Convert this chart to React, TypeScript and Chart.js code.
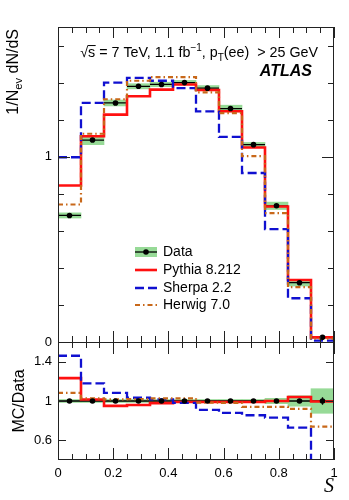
import React, { useEffect, useRef } from 'react';
import { Chart, registerables } from 'chart.js';

Chart.register(...registerables);

// ---------- data ----------
const BIN_EDGES = [0, 0.0833, 0.1667, 0.25, 0.3333, 0.4167, 0.5, 0.5833, 0.6667, 0.75, 0.8333, 0.9167, 1];

const DATA = [0.683, 1.09, 1.29, 1.38, 1.39, 1.4, 1.37, 1.26, 1.065, 0.735, 0.32, 0.025];
const DATA_BAND = [0.014, 0.025, 0.016, 0.014, 0.012, 0.012, 0.014, 0.018, 0.012, 0.02, 0.018, 0.004];
const DATA_STAT = [0.008, 0.008, 0.008, 0.008, 0.008, 0.008, 0.008, 0.008, 0.008, 0.006, 0.005, 0.001];

const PYTHIA = [0.845, 1.11, 1.227, 1.326, 1.362, 1.39, 1.36, 1.245, 1.05, 0.731, 0.335, 0.025];
const SHERPA = [0.997, 1.29, 1.4, 1.425, 1.41, 1.37, 1.245, 1.107, 0.912, 0.609, 0.236, 0.007];
const HERWIG = [0.742, 1.124, 1.31, 1.41, 1.43, 1.43, 1.347, 1.235, 1.003, 0.696, 0.296, 0.018];

const DATA_RATIO = [1, 1, 1, 1, 1, 1, 1, 1, 1, 1, 1, 1];
const RATIO_BAND = [0.015, 0.015, 0.015, 0.015, 0.015, 0.015, 0.015, 0.015, 0.015, 0.027, 0.053, 0.125];
const RATIO_STAT = [0.004, 0.004, 0.004, 0.004, 0.004, 0.004, 0.004, 0.004, 0.005, 0.008, 0.015, 0.038];

const PYTHIA_RATIO = [1.233, 1.015, 0.95, 0.96, 0.978, 0.99, 0.99, 0.99, 0.99, 1.0, 1.04, 0.995];
const SHERPA_RATIO = [1.46, 1.18, 1.083, 1.033, 1.017, 0.98, 0.91, 0.88, 0.855, 0.83, 0.73, 0.28];
const HERWIG_RATIO = [1.083, 1.027, 1.017, 1.02, 1.027, 1.027, 0.983, 0.98, 0.94, 0.94, 0.92, 0.74];

const X_TICKS = [0, 0.2, 0.4, 0.6, 0.8, 1];
const MAIN_Y_LABELS = [0, 1];
const RATIO_Y_TICKS = [0.6, 1, 1.4];
const LEGEND_LABELS = ['Data', 'Pythia 8.212', 'Sherpa 2.2', 'Herwig 7.0'];

// ---------- style ----------
const FONT = "'Liberation Sans', Arial, Helvetica, sans-serif";
const RED = '#ff1010';
const BLUE = '#1010d0';
const ORANGE = '#c8681a';
const GREEN = '#97da97';
const BLUE_DASH = [9, 4];
const ORANGE_DASH = [5, 3, 1.5, 3];

// ---------- helpers ----------
function stepPoints(vals: number[]) {
  const pts = vals.map((v, i) => ({ x: BIN_EDGES[i], y: v }));
  pts.push({ x: BIN_EDGES[vals.length], y: vals[vals.length - 1] });
  return pts;
}
function centre(i: number) {
  return (BIN_EDGES[i] + BIN_EDGES[i + 1]) / 2;
}
function bandPoints(vals: number[], errs: number[]) {
  return vals.map((v, i) => ({ x: centre(i), y: [v - errs[i], v + errs[i]] }));
}
function centrePoints(vals: number[]) {
  return vals.map((v, i) => ({ x: centre(i), y: v }));
}
function errorSegments(vals: number[], errs: number[]) {
  const pts: any[] = [];
  vals.forEach((v, i) => {
    const c = centre(i);
    pts.push({ x: BIN_EDGES[i], y: v }, { x: BIN_EDGES[i + 1], y: v }, { x: c, y: null });
    pts.push({ x: c, y: v - errs[i] }, { x: c, y: v + errs[i] }, { x: c, y: null });
  });
  return pts;
}

type Part = { t: string; mode?: 'sup' | 'sub'; over?: boolean };
function richWidth(ctx: CanvasRenderingContext2D, parts: Part[], size: number, style = '') {
  let w = 0;
  for (const p of parts) {
    const s = p.mode ? size * 0.7 : size;
    ctx.font = `${style}${s}px ${FONT}`;
    w += ctx.measureText(p.t).width;
  }
  return w;
}
function drawRich(ctx: CanvasRenderingContext2D, x: number, y: number, parts: Part[], size: number, style = '') {
  let cx = x;
  for (const p of parts) {
    const s = p.mode ? size * 0.7 : size;
    ctx.font = `${style}${s}px ${FONT}`;
    const dy = p.mode === 'sup' ? -size * 0.4 : p.mode === 'sub' ? size * 0.28 : 0;
    ctx.fillText(p.t, cx, y + dy);
    const w = ctx.measureText(p.t).width;
    if (p.over) {
      ctx.beginPath();
      ctx.lineWidth = 1;
      ctx.moveTo(cx - 0.5, y - size * 0.8);
      ctx.lineTo(cx + w + 0.5, y - size * 0.8);
      ctx.stroke();
    }
    cx += w;
  }
  return cx - x;
}

const decorPlugin = {
  id: 'decor',
  afterDraw(chart: any) {
    const ctx: CanvasRenderingContext2D = chart.ctx;
    const xs = chart.scales.x;
    const ys = chart.scales.y;
    const rs = chart.scales.yRatio;
    const L = xs.left;
    const R = xs.right;
    const mt = ys.top;
    const mb = ys.bottom;
    const rt = rs.top;
    const rb = rs.bottom;
    const line = (x1: number, y1: number, x2: number, y2: number) => {
      ctx.beginPath();
      ctx.moveTo(x1, y1);
      ctx.lineTo(x2, y2);
      ctx.stroke();
    };
    ctx.save();
    ctx.strokeStyle = '#222';
    ctx.lineWidth = 1;
    // frames
    ctx.strokeRect(Math.round(L) + 0.5, Math.round(mt) + 0.5, Math.round(R - L) - 1, Math.round(mb - mt));
    ctx.strokeRect(Math.round(L) + 0.5, Math.round(rt) + 0.5, Math.round(R - L) - 1, Math.round(rb - rt) - 1);

    // x ticks (major every 0.2, minor every 0.05)
    for (let k = 0; k <= 20; k++) {
      const px = Math.round(xs.getPixelForValue(k * 0.05)) + 0.5;
      const major = k % 4 === 0;
      const lm = major ? 11 : 6;
      line(px, mt, px, mt + lm);
      line(px, mb, px, mb - lm);
      const lr = major ? 12 : 6;
      line(px, rt, px, rt + lr);
      line(px, rb, px, rb - lr);
    }
    // main y ticks every 0.2
    for (let k = 0; k <= 8; k++) {
      const v = k * 0.2;
      const py = Math.round(ys.getPixelForValue(v)) + 0.5;
      const len = k === 0 || k === 5 ? 12 : 6;
      line(L, py, L + len, py);
      line(R, py, R - len, py);
    }
    // ratio y ticks
    for (const v of RATIO_Y_TICKS) {
      const py = Math.round(rs.getPixelForValue(v)) + 0.5;
      line(L, py, L + 8, py);
      line(R, py, R - 8, py);
    }

    // header text
    ctx.fillStyle = '#000';
    ctx.strokeStyle = '#000';
    ctx.textBaseline = 'alphabetic';
    ctx.textAlign = 'left';
    const header: Part[] = [
      { t: '\u221A' },
      { t: 's', over: true },
      { t: ' = 7 TeV, 1.1 fb' },
      { t: '\u22121', mode: 'sup' },
      { t: ', p' },
      { t: 'T', mode: 'sub' },
      { t: '(ee)  > 25 GeV' },
    ];
    const hw = richWidth(ctx, header, 14.3);
    drawRich(ctx, 318 - hw, 57, header, 14.3);

    // ATLAS
    ctx.font = `italic bold 16px ${FONT}`;
    ctx.textAlign = 'right';
    ctx.fillText('ATLAS', 312, 76);

    // y-axis title (main)
    const ytitle: Part[] = [{ t: '1/N' }, { t: 'ev', mode: 'sub' }, { t: ' dN/dS' }];
    ctx.save();
    ctx.translate(18, 29);
    ctx.rotate(-Math.PI / 2);
    ctx.textAlign = 'left';
    const yw = richWidth(ctx, ytitle, 16);
    drawRich(ctx, -yw, 0, ytitle, 16);
    ctx.restore();

    // ratio y title
    ctx.save();
    ctx.translate(24, (rt + rb) / 2);
    ctx.rotate(-Math.PI / 2);
    ctx.textAlign = 'center';
    ctx.font = `16px ${FONT}`;
    ctx.fillText('MC/Data', 0, 0);
    ctx.restore();

    // x title
    ctx.textAlign = 'right';
    ctx.font = `italic 20px 'Liberation Serif', 'DejaVu Serif', serif`;
    ctx.fillText('S', 334, 492);

    // legend
    const lx0 = 135;
    const lx1 = 157;
    const rows = [252, 270, 288, 305];
    // Data
    ctx.fillStyle = GREEN;
    ctx.fillRect(lx0, rows[0] - 5, lx1 - lx0, 10);
    ctx.strokeStyle = '#000';
    ctx.lineWidth = 1.3;
    line(lx0, rows[0], lx1, rows[0]);
    ctx.fillStyle = '#000';
    ctx.beginPath();
    ctx.arc((lx0 + lx1) / 2, rows[0], 2.8, 0, Math.PI * 2);
    ctx.fill();
    // Pythia
    ctx.strokeStyle = RED;
    ctx.lineWidth = 2.6;
    line(lx0, rows[1], lx1, rows[1]);
    // Sherpa
    ctx.strokeStyle = BLUE;
    ctx.lineWidth = 2.3;
    ctx.setLineDash(BLUE_DASH);
    line(lx0, rows[2], lx1, rows[2]);
    // Herwig
    ctx.strokeStyle = ORANGE;
    ctx.lineWidth = 2.2;
    ctx.setLineDash(ORANGE_DASH);
    line(lx0, rows[3], lx1, rows[3]);
    ctx.setLineDash([]);
    ctx.fillStyle = '#000';
    ctx.textAlign = 'left';
    ctx.textBaseline = 'middle';
    ctx.font = `14px ${FONT}`;
    LEGEND_LABELS.forEach((lab, i) => ctx.fillText(lab, 163, rows[i] + 0.5));

    ctx.restore();
  },
};

export default function App() {
  const canvasRef = useRef<HTMLCanvasElement | null>(null);

  useEffect(() => {
    if (!canvasRef.current) return;
    Chart.defaults.font.family = FONT;
    Chart.defaults.color = '#000';

    const lineDs = (data: any[], axis: string, color: string, width: number, dash: number[], order: number) => ({
      type: 'line' as const,
      data,
      yAxisID: axis,
      borderColor: color,
      borderWidth: width,
      borderDash: dash,
      stepped: 'before' as const,
      pointRadius: 0,
      fill: false,
      order,
    });

    const bandDs = (data: any[], axis: string) => ({
      type: 'bar' as const,
      data,
      yAxisID: axis,
      backgroundColor: GREEN,
      borderWidth: 0,
      barPercentage: 1,
      categoryPercentage: 1,
      grouped: false,
      order: 20,
    });

    const errDs = (data: any[], axis: string) => ({
      type: 'line' as const,
      data,
      yAxisID: axis,
      borderColor: '#000',
      borderWidth: 1.3,
      pointRadius: 0,
      spanGaps: false,
      fill: false,
      order: 10,
    });

    const dotDs = (data: any[], axis: string) => ({
      type: 'line' as const,
      data,
      yAxisID: axis,
      showLine: false,
      pointRadius: 2.8,
      pointBackgroundColor: '#000',
      pointBorderColor: '#000',
      pointBorderWidth: 0,
      order: 0,
    });

    const hideAxis = {
      grid: { display: false, drawTicks: false },
      border: { display: false },
    };

    const chart = new Chart(canvasRef.current, {
      type: 'line',
      data: {
        datasets: [
          bandDs(bandPoints(DATA, DATA_BAND), 'y'),
          bandDs(bandPoints(DATA_RATIO, RATIO_BAND), 'yRatio'),
          errDs(errorSegments(DATA, DATA_STAT), 'y'),
          errDs(errorSegments(DATA_RATIO, RATIO_STAT), 'yRatio'),
          lineDs(stepPoints(PYTHIA), 'y', RED, 2.6, [], 5),
          lineDs(stepPoints(PYTHIA_RATIO), 'yRatio', RED, 2.6, [], 5),
          lineDs(stepPoints(SHERPA), 'y', BLUE, 2.3, BLUE_DASH, 4),
          lineDs(stepPoints(SHERPA_RATIO), 'yRatio', BLUE, 2.3, BLUE_DASH, 4),
          lineDs(stepPoints(HERWIG), 'y', ORANGE, 2.2, ORANGE_DASH, 3),
          lineDs(stepPoints(HERWIG_RATIO), 'yRatio', ORANGE, 2.2, ORANGE_DASH, 3),
          dotDs(centrePoints(DATA), 'y'),
          dotDs(centrePoints(DATA_RATIO), 'yRatio'),
        ] as any,
      },
      options: {
        animation: false,
        responsive: true,
        maintainAspectRatio: false,
        events: [],
        layout: { padding: { top: 27, right: 15, left: 0, bottom: 0 } },
        plugins: { legend: { display: false }, tooltip: { enabled: false }, title: { display: false } },
        scales: {
          x: {
            type: 'linear',
            min: 0,
            max: 1,
            offset: false,
            ...hideAxis,
            ticks: { padding: 6, font: { size: 13 }, color: '#000', maxRotation: 0, autoSkip: false, callback: (v: any) => String(v) },
            afterBuildTicks: (s: any) => { s.ticks = X_TICKS.map((v) => ({ value: v })); },
            afterFit: (s: any) => { s.height = 40; },
          },
          yRatio: {
            type: 'linear',
            axis: 'y',
            position: 'left',
            stack: 'panels',
            stackWeight: 118,
            weight: 0,
            min: 0.4,
            max: 1.6,
            ...hideAxis,
            ticks: { padding: 6, font: { size: 13 }, color: '#000', callback: (v: any) => String(v) },
            afterBuildTicks: (s: any) => { s.ticks = RATIO_Y_TICKS.map((v) => ({ value: v })); },
            afterFit: (s: any) => { s.width = 58; },
          },
          y: {
            type: 'linear',
            position: 'left',
            stack: 'panels',
            stackWeight: 315,
            weight: 1,
            min: 0,
            max: 1.7,
            ...hideAxis,
            ticks: { padding: 6, font: { size: 13 }, color: '#000', callback: (v: any) => String(v) },
            afterBuildTicks: (s: any) => { s.ticks = MAIN_Y_LABELS.map((v) => ({ value: v })); },
            afterFit: (s: any) => { s.width = 58; },
          },
        } as any,
      },
      plugins: [decorPlugin],
    });

    return () => chart.destroy();
  }, []);

  return (
    <div style={{ position: 'fixed', left: 0, top: 0, width: 349, height: 500, background: '#fff' }}>
      <canvas ref={canvasRef} />
    </div>
  );
}
